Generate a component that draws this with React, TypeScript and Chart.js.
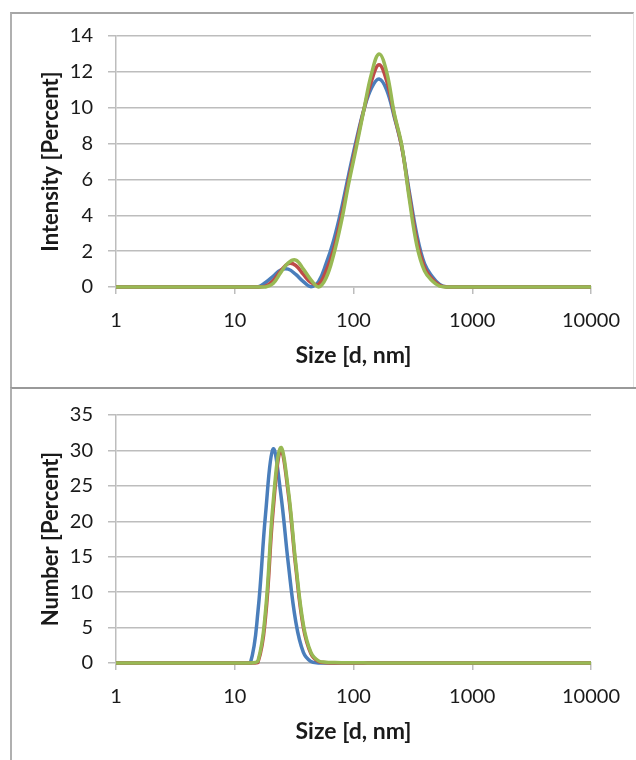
import React, { useEffect, useRef } from "react";
import { Chart, registerables } from "chart.js";

Chart.register(...registerables);

// Size bins (d, nm)
const sizes = [
  0.9649, 1.117, 1.294, 1.499, 1.736, 2.01, 2.328, 2.696, 3.122, 3.615,
  4.187, 4.849, 5.615, 6.503, 7.531, 8.721, 10.1, 11.7, 13.54, 15.69,
  18.17, 21.04, 24.36, 28.21, 32.67, 37.84, 43.82, 50.75, 58.77, 68.06,
  78.82, 91.28, 105.7, 122.4, 141.8, 164.2, 190.1, 220.2, 255, 295.3,
  342, 396.1, 458.7, 531.2, 615.1, 712.4, 825, 955.4, 1106, 1281,
  1484, 1718, 1990, 2305, 2669, 3091, 3580, 4145, 4801, 5560,
  6439, 7456, 8635, 10000,
];

const xTicks = [1, 10, 100, 1000, 10000];
const intensityTicks = [0, 2, 4, 6, 8, 10, 12, 14];
const numberTicks = [0, 5, 10, 15, 20, 25, 30, 35];

// Intensity [Percent]
const intensityBlue = [
  0, 0, 0, 0, 0, 0, 0, 0, 0, 0,
  0, 0, 0, 0, 0, 0, 0, 0, 0, 0,
  0.25, 0.6, 0.95, 1.0, 0.7, 0.3, 0.02, 0.3, 1.3, 2.6,
  4.3, 6.3, 8.2, 9.9, 11.1, 11.6, 11.0, 9.5, 7.8, 5.3,
  2.9, 1.3, 0.6, 0.15, 0, 0, 0, 0, 0, 0,
  0, 0, 0, 0, 0, 0, 0, 0, 0, 0,
  0, 0, 0, 0,
];
const intensityRed = [
  0, 0, 0, 0, 0, 0, 0, 0, 0, 0,
  0, 0, 0, 0, 0, 0, 0, 0, 0, 0,
  0.05, 0.35, 0.9, 1.3, 1.2, 0.7, 0.25, 0.15, 0.9, 2.1,
  3.9, 6.0, 8.0, 9.9, 11.5, 12.4, 11.5, 9.6, 7.8, 5.1,
  2.6, 1.1, 0.45, 0.1, 0, 0, 0, 0, 0, 0,
  0, 0, 0, 0, 0, 0, 0, 0, 0, 0,
  0, 0, 0, 0,
];
const intensityGreen = [
  0, 0, 0, 0, 0, 0, 0, 0, 0, 0,
  0, 0, 0, 0, 0, 0, 0, 0, 0, 0,
  0, 0.2, 0.8, 1.35, 1.5, 1.0, 0.4, 0.0, 0.5, 1.8,
  3.6, 5.8, 7.8, 9.9, 11.9, 13.0, 12.0, 9.7, 7.9, 4.9,
  2.3, 0.9, 0.35, 0.05, 0, 0, 0, 0, 0, 0,
  0, 0, 0, 0, 0, 0, 0, 0, 0, 0,
  0, 0, 0, 0,
];

// Number [Percent]
const numberBlue = [
  0, 0, 0, 0, 0, 0, 0, 0, 0, 0,
  0, 0, 0, 0, 0, 0, 0, 0, 0, 7.3,
  21, 30.2, 24, 14.1, 5.8, 1.5, 0.2, 0, 0, 0,
  0, 0, 0, 0, 0, 0, 0, 0, 0, 0,
  0, 0, 0, 0, 0, 0, 0, 0, 0, 0,
  0, 0, 0, 0, 0, 0, 0, 0, 0, 0,
  0, 0, 0, 0,
];
const numberRed = [
  0, 0, 0, 0, 0, 0, 0, 0, 0, 0,
  0, 0, 0, 0, 0, 0, 0, 0, 0, 0.1,
  6.5, 21.5, 30.0, 24, 13.5, 5.0, 1.3, 0.2, 0.05, 0,
  0, 0, 0, 0, 0, 0, 0, 0, 0, 0,
  0, 0, 0, 0, 0, 0, 0, 0, 0, 0,
  0, 0, 0, 0, 0, 0, 0, 0, 0, 0,
  0, 0, 0, 0,
];
const numberGreen = [
  0, 0, 0, 0, 0, 0, 0, 0, 0, 0,
  0, 0, 0, 0, 0, 0, 0, 0, 0, 0.3,
  7.4, 22.6, 30.4, 24.5, 14, 5.4, 1.5, 0.3, 0.12, 0.08,
  0.05, 0.04, 0.03, 0.02, 0.01, 0, 0, 0, 0, 0,
  0, 0, 0, 0, 0, 0, 0, 0, 0, 0,
  0, 0, 0, 0, 0, 0, 0, 0, 0, 0,
  0, 0, 0, 0,
];

const seriesColors = ["#4A7EBB", "#BE4B48", "#98B954"];
const FONT = "Lato, 'Open Sans', sans-serif";
const TEXT = "#1a1a1a";
const GRID = "#bdbdbd";

type PanelCfg = {
  series: number[][];
  yTicks: number[];
  yMax: number;
  yTitle: string;
  padTop: number;
  xHeight: number;
  xTitlePad: number;
};

function makeConfig(p: PanelCfg): any {
  return {
    type: "line",
    data: {
      datasets: p.series.map((vals, i) => ({
        data: sizes.map((s, j) => ({ x: s, y: vals[j] })),
        borderColor: seriesColors[i],
        backgroundColor: seriesColors[i],
        borderWidth: 3.5,
        pointRadius: 0,
        tension: 0.4,
        fill: false,
        order: p.series.length - i,
        clip: { left: 0, right: 0, top: 10, bottom: 10 },
      })),
    },
    options: {
      animation: false,
      responsive: false,
      maintainAspectRatio: false,
      layout: { padding: { left: 0, right: 45, top: p.padTop, bottom: 0 } },
      plugins: { legend: { display: false }, tooltip: { enabled: false } },
      scales: {
        x: {
          type: "logarithmic",
          min: xTicks[0],
          max: xTicks[xTicks.length - 1],
          afterBuildTicks: (s: any) => {
            s.ticks = xTicks.map((v) => ({ value: v }));
          },
          afterFit: (s: any) => {
            s.height = p.xHeight;
          },
          grid: {
            drawOnChartArea: false,
            drawTicks: true,
            tickLength: 7,
            color: GRID,
            lineWidth: 1.5,
          },
          border: { display: true, color: GRID, width: 1.5 },
          ticks: {
            autoSkip: false,
            maxRotation: 0,
            padding: 15,
            color: TEXT,
            font: { family: FONT, size: 20 },
            callback: (v: any) => String(v),
          },
          title: {
            display: true,
            text: "Size [d, nm]",
            color: TEXT,
            font: { family: FONT, size: 23, weight: "bold" },
            padding: { top: 0, bottom: p.xTitlePad },
          },
        },
        y: {
          min: 0,
          max: p.yMax,
          afterBuildTicks: (s: any) => {
            s.ticks = p.yTicks.map((v) => ({ value: v }));
          },
          afterFit: (s: any) => {
            s.width = 116;
          },
          grid: { color: GRID, lineWidth: 1.5, tickLength: 8 },
          border: { display: true, color: GRID, width: 1.5 },
          ticks: {
            padding: 15,
            color: TEXT,
            font: { family: FONT, size: 20 },
          },
          title: {
            display: true,
            text: p.yTitle,
            color: TEXT,
            font: { family: FONT, size: 22, weight: "bold" },
            padding: { top: 38, bottom: 0 },
          },
        },
      },
    },
  };
}

export default function App() {
  const topRef = useRef<HTMLCanvasElement>(null);
  const botRef = useRef<HTMLCanvasElement>(null);

  useEffect(() => {
    document.body.style.margin = "0";
    const c1 = new Chart(
      topRef.current as HTMLCanvasElement,
      makeConfig({
        series: [intensityBlue, intensityRed, intensityGreen],
        yTicks: intensityTicks,
        yMax: 14,
        yTitle: "Intensity [Percent]",
        padTop: 36,
        xHeight: 101,
        xTitlePad: 19,
      })
    );
    const c2 = new Chart(
      botRef.current as HTMLCanvasElement,
      makeConfig({
        series: [numberBlue, numberRed, numberGreen],
        yTicks: numberTicks,
        yMax: 35,
        yTitle: "Number [Percent]",
        padTop: 25,
        xHeight: 97,
        xTitlePad: 15,
      })
    );
    return () => {
      c1.destroy();
      c2.destroy();
    };
  }, []);

  return (
    <div style={{ position: "relative", width: 636, height: 760, background: "#fff", overflow: "hidden" }}>
      <canvas ref={topRef} width={636} height={388} style={{ position: "absolute", left: 0, top: 0 }} />
      <canvas ref={botRef} width={636} height={372} style={{ position: "absolute", left: 0, top: 388 }} />
      <div
        style={{
          position: "absolute",
          left: 10,
          top: 12,
          width: 624,
          height: 376,
          borderTop: "2px solid #a6a6a6",
          borderLeft: "2px solid #b0b0b0",
          borderRight: "1px solid #e2e2e2",
          boxSizing: "border-box",
          pointerEvents: "none",
        }}
      />
      <div
        style={{
          position: "absolute",
          left: 10,
          top: 387,
          width: 626,
          height: 373,
          borderTop: "2px solid #999999",
          borderLeft: "2px solid #b0b0b0",
          boxSizing: "border-box",
          pointerEvents: "none",
        }}
      />
    </div>
  );
}
